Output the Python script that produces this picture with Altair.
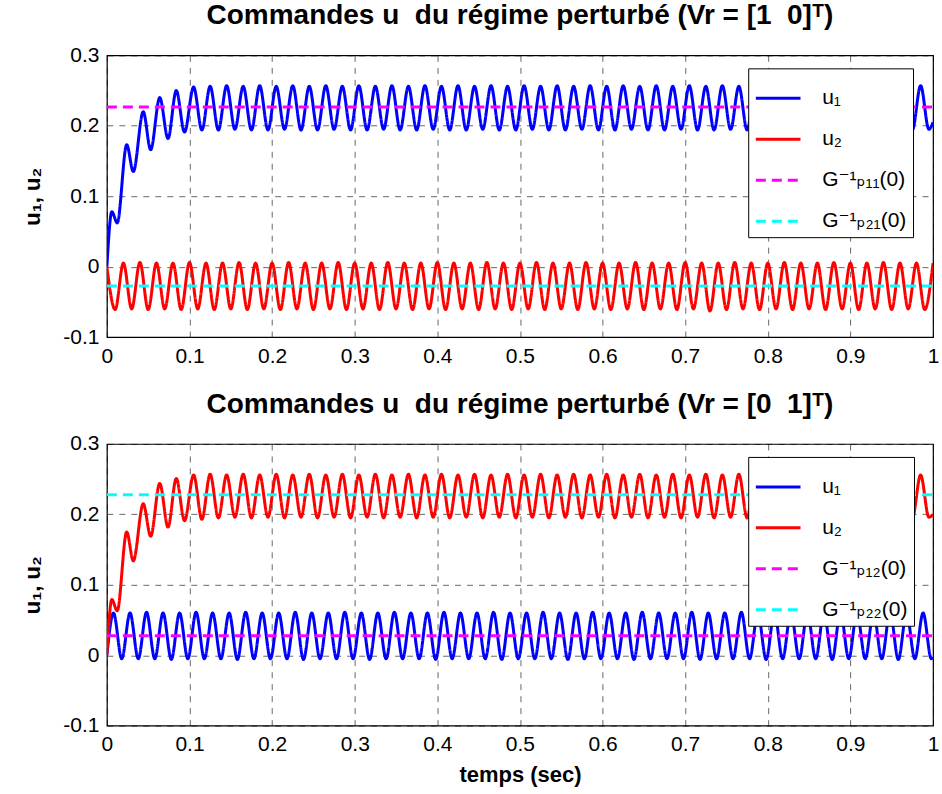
import altair as alt
import pandas as pd

# ---------------- data ----------------
# extrema times (s) of the curves that rise to ~0.225
t_rise = [
    0.000, 0.006, 0.0125, 0.024, 0.032, 0.044, 0.053, 0.064, 0.074, 0.084, 0.094,
    0.105, 0.115, 0.125, 0.135, 0.145, 0.155, 0.165, 0.175, 0.185, 0.195,
    0.205, 0.215, 0.225, 0.235, 0.245, 0.255, 0.265, 0.275, 0.285, 0.295,
    0.305, 0.315, 0.325, 0.335, 0.345, 0.355, 0.365, 0.375, 0.385, 0.395,
    0.405, 0.415, 0.425, 0.435, 0.445, 0.455, 0.465, 0.475, 0.485, 0.495,
    0.505, 0.515, 0.525, 0.535, 0.545, 0.555, 0.565, 0.575, 0.585, 0.595,
    0.605, 0.615, 0.625, 0.635, 0.645, 0.655, 0.665, 0.675, 0.685, 0.695,
    0.705, 0.715, 0.725, 0.735, 0.745, 0.755, 0.765, 0.775, 0.785, 0.795,
    0.805, 0.815, 0.825, 0.835, 0.845, 0.855, 0.865, 0.875, 0.885, 0.895,
    0.905, 0.915, 0.925, 0.935, 0.945, 0.955, 0.965, 0.975, 0.985, 0.995,
    1.000,
]
# top panel u1 (blue)
top_u1 = [
    0.000, 0.078, 0.062, 0.173, 0.135, 0.220, 0.166, 0.240, 0.182, 0.250, 0.191,
    0.255, 0.194, 0.256, 0.194, 0.257, 0.195, 0.256, 0.194, 0.257, 0.194,
    0.256, 0.195, 0.257, 0.194, 0.256, 0.194, 0.257, 0.195, 0.256, 0.194,
    0.257, 0.194, 0.256, 0.195, 0.257, 0.194, 0.256, 0.194, 0.257, 0.195,
    0.256, 0.194, 0.257, 0.194, 0.256, 0.195, 0.257, 0.194, 0.256, 0.194,
    0.257, 0.195, 0.256, 0.194, 0.257, 0.194, 0.256, 0.195, 0.257, 0.194,
    0.256, 0.194, 0.257, 0.195, 0.256, 0.194, 0.257, 0.194, 0.256, 0.195,
    0.257, 0.194, 0.256, 0.194, 0.257, 0.195, 0.256, 0.194, 0.257, 0.194,
    0.256, 0.195, 0.257, 0.194, 0.256, 0.194, 0.257, 0.195, 0.256, 0.194,
    0.257, 0.194, 0.256, 0.195, 0.257, 0.194, 0.256, 0.194, 0.257, 0.195,
    0.205,
]
# bottom panel u2 (red)
bottom_u2 = [
    0.000, 0.079, 0.063, 0.175, 0.134, 0.215, 0.169, 0.244, 0.182, 0.251, 0.191,
    0.256, 0.193, 0.257, 0.195, 0.256, 0.196, 0.257, 0.195, 0.256, 0.196,
    0.257, 0.195, 0.256, 0.196, 0.257, 0.195, 0.256, 0.196, 0.257, 0.195,
    0.256, 0.196, 0.257, 0.195, 0.256, 0.196, 0.257, 0.195, 0.256, 0.196,
    0.257, 0.195, 0.256, 0.196, 0.257, 0.195, 0.256, 0.196, 0.257, 0.195,
    0.256, 0.196, 0.257, 0.195, 0.256, 0.196, 0.257, 0.195, 0.256, 0.196,
    0.257, 0.195, 0.256, 0.196, 0.257, 0.195, 0.256, 0.196, 0.257, 0.195,
    0.256, 0.196, 0.257, 0.195, 0.256, 0.196, 0.257, 0.195, 0.256, 0.196,
    0.257, 0.195, 0.256, 0.196, 0.257, 0.195, 0.256, 0.196, 0.257, 0.195,
    0.256, 0.196, 0.257, 0.195, 0.256, 0.196, 0.257, 0.195, 0.256, 0.196,
    0.200,
]
# extrema times of the top-panel u2 (red)
t_half = [
    0.00, 0.01, 0.02, 0.03, 0.04, 0.05, 0.06, 0.07, 0.08, 0.09,
    0.10, 0.11, 0.12, 0.13, 0.14, 0.15, 0.16, 0.17, 0.18, 0.19,
    0.20, 0.21, 0.22, 0.23, 0.24, 0.25, 0.26, 0.27, 0.28, 0.29,
    0.30, 0.31, 0.32, 0.33, 0.34, 0.35, 0.36, 0.37, 0.38, 0.39,
    0.40, 0.41, 0.42, 0.43, 0.44, 0.45, 0.46, 0.47, 0.48, 0.49,
    0.50, 0.51, 0.52, 0.53, 0.54, 0.55, 0.56, 0.57, 0.58, 0.59,
    0.60, 0.61, 0.62, 0.63, 0.64, 0.65, 0.66, 0.67, 0.68, 0.69,
    0.70, 0.71, 0.72, 0.73, 0.74, 0.75, 0.76, 0.77, 0.78, 0.79,
    0.80, 0.81, 0.82, 0.83, 0.84, 0.85, 0.86, 0.87, 0.88, 0.89,
    0.90, 0.91, 0.92, 0.93, 0.94, 0.95, 0.96, 0.97, 0.98, 0.99,
    1.00,
]
top_u2 = [
    0.000, -0.061, 0.005, -0.060, 0.006, -0.061, 0.005, -0.060, 0.005, -0.061,
    0.006, -0.060, 0.005, -0.061, 0.005, -0.060, 0.006, -0.061, 0.005, -0.060,
    0.005, -0.061, 0.006, -0.060, 0.005, -0.061, 0.005, -0.060, 0.006, -0.061,
    0.005, -0.060, 0.005, -0.061, 0.006, -0.060, 0.005, -0.061, 0.005, -0.060,
    0.006, -0.061, 0.005, -0.060, 0.005, -0.061, 0.006, -0.060, 0.005, -0.061,
    0.005, -0.060, 0.006, -0.061, 0.005, -0.060, 0.005, -0.061, 0.006, -0.060,
    0.005, -0.061, 0.005, -0.060, 0.006, -0.061, 0.005, -0.060, 0.005, -0.061,
    0.006, -0.060, 0.005, -0.063, 0.005, -0.061, 0.006, -0.060, 0.005, -0.061,
    0.005, -0.060, 0.006, -0.061, 0.005, -0.060, 0.005, -0.061, 0.006, -0.060,
    0.005, -0.061, 0.005, -0.060, 0.006, -0.061, 0.005, -0.060, 0.005, -0.061,
    0.005,
]
# extrema times of the bottom-panel u1 (blue)
t_shift = [
    0.000,
    0.008, 0.018, 0.028, 0.038, 0.048, 0.058, 0.068, 0.078, 0.088, 0.098,
    0.108, 0.118, 0.128, 0.138, 0.148, 0.158, 0.168, 0.178, 0.188, 0.198,
    0.208, 0.218, 0.228, 0.238, 0.248, 0.258, 0.268, 0.278, 0.288, 0.298,
    0.308, 0.318, 0.328, 0.338, 0.348, 0.358, 0.368, 0.378, 0.388, 0.398,
    0.408, 0.418, 0.428, 0.438, 0.448, 0.458, 0.468, 0.478, 0.488, 0.498,
    0.508, 0.518, 0.528, 0.538, 0.548, 0.558, 0.568, 0.578, 0.588, 0.598,
    0.608, 0.618, 0.628, 0.638, 0.648, 0.658, 0.668, 0.678, 0.688, 0.698,
    0.708, 0.718, 0.728, 0.738, 0.748, 0.758, 0.768, 0.778, 0.788, 0.798,
    0.808, 0.818, 0.828, 0.838, 0.848, 0.858, 0.868, 0.878, 0.888, 0.898,
    0.908, 0.918, 0.928, 0.938, 0.948, 0.958, 0.968, 0.978, 0.988, 0.998,
    1.000,
]
bottom_u1 = [
    0.000,
    0.060, -0.005, 0.060, -0.005, 0.061, -0.005, 0.060, -0.006, 0.060, -0.005,
    0.061, -0.005, 0.060, -0.005, 0.060, -0.006, 0.061, -0.005, 0.060, -0.005,
    0.060, -0.005, 0.061, -0.006, 0.060, -0.005, 0.060, -0.005, 0.061, -0.005,
    0.060, -0.006, 0.060, -0.005, 0.061, -0.005, 0.060, -0.005, 0.060, -0.006,
    0.061, -0.005, 0.060, -0.005, 0.060, -0.005, 0.061, -0.006, 0.060, -0.005,
    0.060, -0.005, 0.061, -0.005, 0.060, -0.006, 0.060, -0.005, 0.061, -0.005,
    0.060, -0.005, 0.060, -0.006, 0.061, -0.005, 0.060, -0.005, 0.060, -0.005,
    0.061, -0.006, 0.060, -0.005, 0.060, -0.005, 0.061, -0.005, 0.060, -0.006,
    0.060, -0.005, 0.061, -0.005, 0.060, -0.005, 0.060, -0.006, 0.061, -0.005,
    0.060, -0.005, 0.060, -0.005, 0.061, -0.006, 0.060, -0.005, 0.060, -0.005,
    -0.003,
]
# steady-state references G_p^-1(0)
top_refs = [0.2265, -0.0275]
bottom_refs = [0.0275, 0.2280]
ref_t = [0.0, 1.0]

top_names = ["u\u2081", "u\u2082", "G\u207b\u00b9\u209a\u2081\u2081(0)", "G\u207b\u00b9\u209a\u2082\u2081(0)"]
bottom_names = ["u\u2081", "u\u2082", "G\u207b\u00b9\u209a\u2081\u2082(0)", "G\u207b\u00b9\u209a\u2082\u2082(0)"]
top_title = "Commandes u\u00a0 du régime perturbé (Vr = [1\u00a0 0]\u1d40)"
bottom_title = "Commandes u\u00a0 du régime perturbé (Vr = [0\u00a0 1]\u1d40)"
x_ticks = [0, 0.1, 0.2, 0.3, 0.4, 0.5, 0.6, 0.7, 0.8, 0.9, 1.0]
y_ticks = [-0.1, 0, 0.1, 0.2, 0.3]

COLORS = ["#0000ff", "#ff0000", "#ff00ff", "#00ffff"]
DASHES = [[1, 0], [1, 0], [10, 6], [10, 6]]
FONT = "Liberation Sans, Arial, DejaVu Sans, sans-serif"
W, H = 827, 282


def panel(u1_t, u1_v, u2_t, u2_v, refs, names, title, xtitle):
    lines = pd.DataFrame({
        "t": list(u1_t) + list(u2_t),
        "v": list(u1_v) + list(u2_v),
        "series": [names[0]] * len(u1_t) + [names[1]] * len(u2_t),
    })
    consts = pd.DataFrame({
        "t": list(ref_t) + list(ref_t),
        "v": [refs[0]] * len(ref_t) + [refs[1]] * len(ref_t),
        "series": [names[2]] * len(ref_t) + [names[3]] * len(ref_t),
    })
    leg = alt.Legend(
        title=None, orient="none", legendX=642, legendY=13,
        symbolType="stroke", symbolSize=2000, symbolStrokeWidth=3,
        labelFontSize=21, labelFont=FONT, labelColor="black",
        strokeColor="black", fillColor="white", padding=6,
        rowPadding=7, labelOffset=20, labelLimit=300, cornerRadius=0,
    )
    color = alt.Color("series:N", scale=alt.Scale(domain=names, range=COLORS), legend=leg)
    dash = alt.StrokeDash("series:N", scale=alt.Scale(domain=names, range=DASHES), legend=leg)
    x = alt.X(
        "t:Q",
        scale=alt.Scale(domain=[0, 1], nice=False, zero=False),
        axis=alt.Axis(
            values=x_ticks, format="~g", title=xtitle,
            labelFontSize=21, labelFont=FONT, labelColor="black",
            titleFontSize=22, titleFont=FONT, titleFontWeight="bold", titleColor="black",
            titlePadding=10, labelPadding=8, ticks=False, tickSize=0, domain=False,
            grid=True, gridDash=[6, 6], gridColor="#000000", gridOpacity=0.6, gridWidth=1,
            labelFlush=False,
        ),
    )
    y = alt.Y(
        "v:Q",
        scale=alt.Scale(domain=[-0.1, 0.3], nice=False, zero=False),
        axis=alt.Axis(
            values=y_ticks,
            labelExpr="datum.value < 0 ? '-' + format(-datum.value, '~g') : format(datum.value, '~g')",
            title="u\u2081, u\u2082",
            labelFontSize=21, labelFont=FONT, labelColor="black",
            titleFontSize=22, titleFont=FONT, titleFontWeight="bold", titleColor="black",
            titlePadding=18, labelPadding=8, ticks=False, tickSize=0, domain=False,
            grid=True, gridDash=[6, 6], gridColor="#000000", gridOpacity=0.6, gridWidth=1,
            labelFlush=False,
        ),
    )
    l1 = alt.Chart(lines).mark_line(strokeWidth=3, interpolate="monotone", clip=True).encode(
        x=x, y=y, color=color, strokeDash=dash, detail="series:N"
    )
    l2 = alt.Chart(consts).mark_line(strokeWidth=3, clip=True).encode(
        x=x, y=y, color=color, strokeDash=dash, detail="series:N"
    )
    return alt.layer(l1, l2).properties(
        width=W, height=H,
        title=alt.TitleParams(
            text=title, fontSize=28, fontWeight="bold", font=FONT, color="black",
            offset=14, anchor="middle", frame="group",
        ),
    )


top = panel(t_rise, top_u1, t_half, top_u2, top_refs, top_names, top_title, None)
bottom = panel(t_shift, bottom_u1, t_rise, bottom_u2, bottom_refs, bottom_names, bottom_title, "temps (sec)")

chart = (
    alt.vconcat(top, bottom, spacing=23)
    .resolve_scale(color="independent", strokeDash="independent")
    .properties(padding={"left": 21, "top": 1, "right": 2, "bottom": 2}, background="white")
    .configure_view(stroke="black", strokeWidth=1.2)
)

chart.save("out.html", embed_options={"renderer": "svg", "actions": False})
